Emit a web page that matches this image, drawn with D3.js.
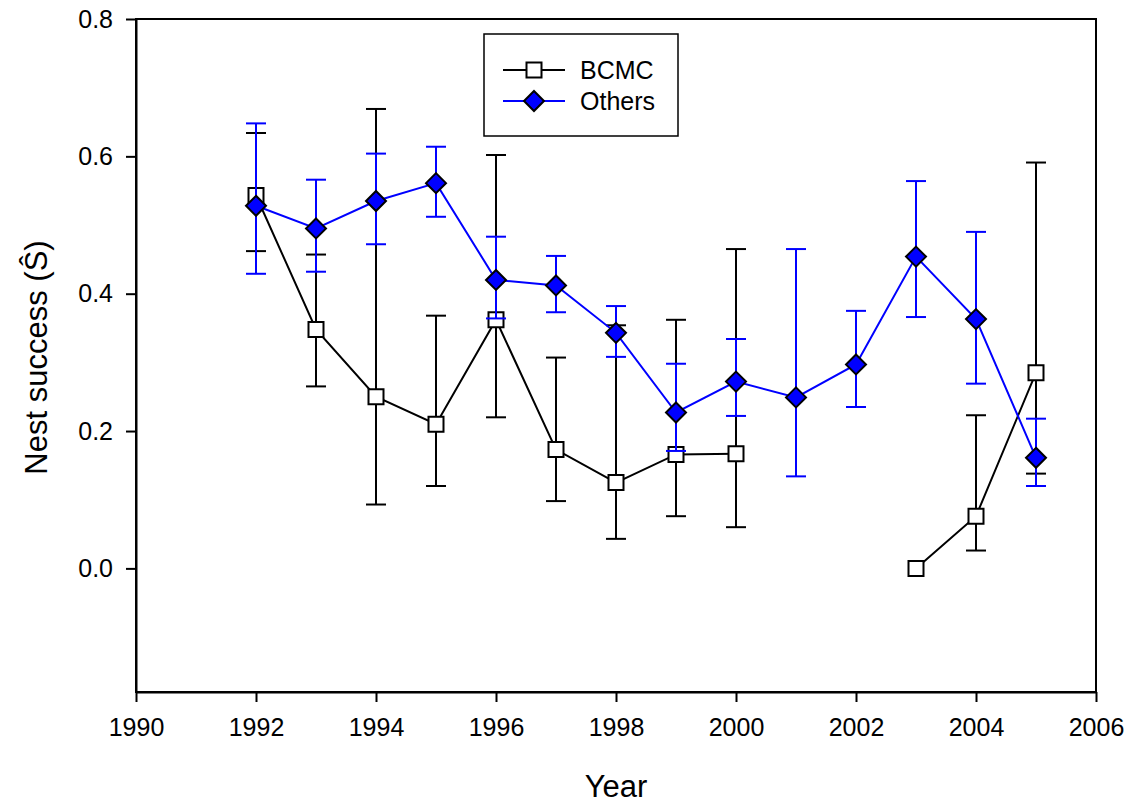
<!DOCTYPE html>
<html>
<head>
<meta charset="utf-8">
<script src="https://cdn.jsdelivr.net/npm/d3@7"></script>
<style>
  body { margin: 0; background: #fff; }
  svg { display: block; font-family: "Liberation Sans", Arial, sans-serif; }
</style>
</head>
<body>
<div id="wrapper"></div>
<script>
// years and estimates
const years = [1992, 1993, 1994, 1995, 1996, 1997, 1998, 1999, 2000, 2001, 2002, 2003, 2004, 2005]

const bcmcValue = [0.543, 0.348, 0.250, 0.210, 0.362, 0.173, 0.125, 0.166, 0.167, null, null, 0.000, 0.076, 0.285]
const bcmcUpper = [0.634, 0.457, 0.669, 0.368, 0.602, 0.307, 0.354, 0.362, 0.465, null, null, null, 0.223, 0.591]
const bcmcLower = [0.462, 0.265, 0.093, 0.120, 0.220, 0.098, 0.043, 0.076, 0.060, null, null, null, 0.026, 0.138]

const othersValue = [0.528, 0.495, 0.535, 0.561, 0.420, 0.412, 0.343, 0.227, 0.272, 0.249, 0.297, 0.454, 0.363, 0.161]
const othersUpper = [0.648, 0.566, 0.604, 0.614, 0.483, 0.455, 0.382, 0.298, 0.334, 0.465, 0.375, 0.564, 0.490, 0.218]
const othersLower = [0.429, 0.432, 0.472, 0.512, 0.364, 0.373, 0.308, 0.171, 0.222, 0.134, 0.235, 0.366, 0.269, 0.120]

const xTicks = d3.range(1990, 2007, 2)
const yTicks = [0.0, 0.2, 0.4, 0.6, 0.8]

let dimensions = {
    width: 1131,
    height: 804,
    margin: { top: 19, right: 35, bottom: 112, left: 136 }
}
dimensions.boundedWidth = dimensions.width - dimensions.margin.left - dimensions.margin.right
dimensions.boundedHeight = dimensions.height - dimensions.margin.top - dimensions.margin.bottom

const svg = d3.select("#wrapper")
    .append("svg")
    .attr("width", dimensions.width)
    .attr("height", dimensions.height)

const bounds = svg.append("g")
    .attr("transform", `translate(${dimensions.margin.left},${dimensions.margin.top})`)

const x = d3.scaleLinear().domain([1990, 2006]).range([0, dimensions.boundedWidth])
const y = d3.scaleLinear().domain([-0.18, 0.8]).range([dimensions.boundedHeight, 0])

// frame
bounds.append("rect")
    .attr("width", dimensions.boundedWidth)
    .attr("height", dimensions.boundedHeight)
    .attr("fill", "none")
    .attr("stroke", "black")
    .attr("stroke-width", 2)

// axes
const xAxis = bounds.append("g")
    .attr("transform", `translate(0,${dimensions.boundedHeight})`)
    .call(d3.axisBottom(x).tickValues(xTicks).tickFormat(d3.format("d"))
        .tickSize(10).tickSizeOuter(0).tickPadding(16))
const yAxis = bounds.append("g")
    .call(d3.axisLeft(y).tickValues(yTicks).tickFormat(d3.format(".1f"))
        .tickSize(10).tickSizeOuter(0).tickPadding(13))

;[xAxis, yAxis].forEach(a => {
    a.select(".domain").attr("stroke-width", 2)
    a.selectAll(".tick line").attr("stroke-width", 2)
    a.selectAll(".tick text")
        .attr("font-size", "25px")
        .attr("font-family", "'Liberation Sans', Arial, sans-serif")
        .attr("fill", "black")
})

// axis titles
svg.append("text")
    .attr("x", dimensions.margin.left + dimensions.boundedWidth / 2)
    .attr("y", 797)
    .attr("text-anchor", "middle")
    .attr("font-size", "31px")
    .text("Year")

svg.append("text")
    .attr("transform", `translate(47,${dimensions.margin.top + dimensions.boundedHeight / 2 + 2}) rotate(-90)`)
    .attr("text-anchor", "middle")
    .attr("font-size", "31px")
    .text("Nest success (Ŝ)")

function series(values, upper, lower) {
    return years.map((yr, i) => ({ year: yr, v: values[i], hi: upper[i], lo: lower[i] }))
}
const bcmc = series(bcmcValue, bcmcUpper, bcmcLower)
const others = series(othersValue, othersUpper, othersLower)

const capHalf = 10

function drawErrorBars(data, color) {
    const g = bounds.append("g")
    const withErr = data.filter(d => d.v !== null && d.hi !== null)
    g.selectAll(".bar").data(withErr).enter().append("line")
        .attr("x1", d => x(d.year)).attr("x2", d => x(d.year))
        .attr("y1", d => y(d.hi)).attr("y2", d => y(d.lo))
        .attr("stroke", color).attr("stroke-width", 2)
    g.selectAll(".capHi").data(withErr).enter().append("line")
        .attr("x1", d => x(d.year) - capHalf).attr("x2", d => x(d.year) + capHalf)
        .attr("y1", d => y(d.hi)).attr("y2", d => y(d.hi))
        .attr("stroke", color).attr("stroke-width", 2)
    g.selectAll(".capLo").data(withErr).enter().append("line")
        .attr("x1", d => x(d.year) - capHalf).attr("x2", d => x(d.year) + capHalf)
        .attr("y1", d => y(d.lo)).attr("y2", d => y(d.lo))
        .attr("stroke", color).attr("stroke-width", 2)
}

function drawLine(data, color) {
    bounds.append("path")
        .datum(data)
        .attr("fill", "none")
        .attr("stroke", color)
        .attr("stroke-width", 2)
        .attr("d", d3.line().defined(d => d.v !== null).x(d => x(d.year)).y(d => y(d.v)))
}

const squareSym = d3.symbol().type(d3.symbolSquare).size(225)
const diamondPath = "M0,-10L10,0L0,10L-10,0Z"

// BCMC
drawErrorBars(bcmc, "black")
drawLine(bcmc, "black")
bounds.append("g").selectAll("path")
    .data(bcmc.filter(d => d.v !== null))
    .enter().append("path")
    .attr("transform", d => `translate(${x(d.year)},${y(d.v)})`)
    .attr("d", squareSym)
    .attr("fill", "white")
    .attr("stroke", "black")
    .attr("stroke-width", 2)

// Others
drawErrorBars(others, "#0000ff")
drawLine(others, "#0000ff")
bounds.append("g").selectAll("path")
    .data(others)
    .enter().append("path")
    .attr("transform", d => `translate(${x(d.year)},${y(d.v)})`)
    .attr("d", diamondPath)
    .attr("fill", "#0000ff")
    .attr("stroke", "black")
    .attr("stroke-width", 2)

// legend
const legend = svg.append("g")
legend.append("rect")
    .attr("x", 484).attr("y", 34).attr("width", 194).attr("height", 102)
    .attr("fill", "white").attr("stroke", "black").attr("stroke-width", 1.5)

const legendItems = [
    { name: "BCMC", color: "black", y: 70 },
    { name: "Others", color: "#0000ff", y: 101 }
]
legendItems.forEach((item, i) => {
    legend.append("line")
        .attr("x1", 503).attr("x2", 565).attr("y1", item.y).attr("y2", item.y)
        .attr("stroke", item.color).attr("stroke-width", 2)
    const m = legend.append("path")
        .attr("transform", `translate(534,${item.y})`)
        .attr("stroke", "black").attr("stroke-width", 2)
    if (i === 0) m.attr("d", squareSym).attr("fill", "white")
    else m.attr("d", diamondPath).attr("fill", "#0000ff")
    legend.append("text")
        .attr("x", 580).attr("y", item.y + 9)
        .attr("font-size", "25px")
        .text(item.name)
})
</script>
</body>
</html>
